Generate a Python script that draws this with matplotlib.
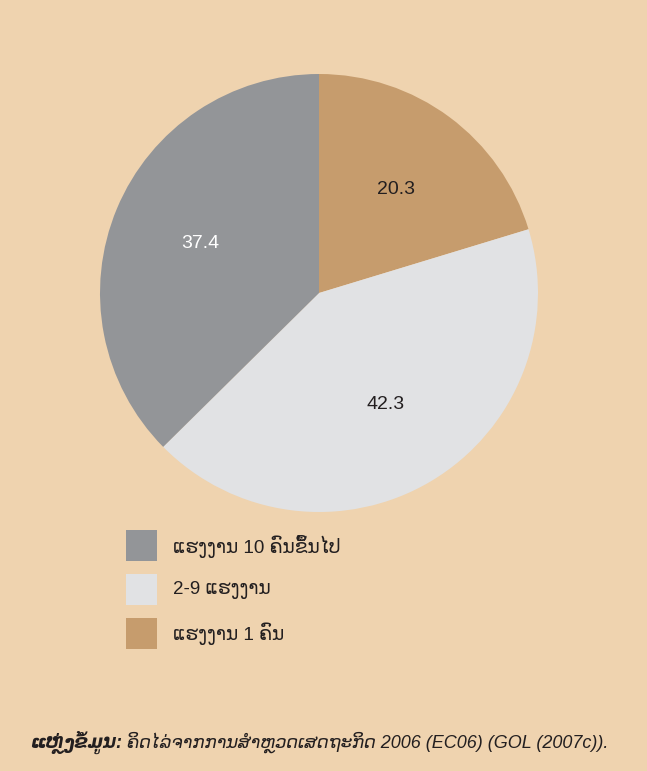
import matplotlib
matplotlib.use("Agg")
import matplotlib.pyplot as plt
from matplotlib.patches import Rectangle
import numpy as np

labels = ["ແຮງງານ 1 ຄົນ", "2-9 ແຮງງານ", "ແຮງງານ 10 ຄົນຂຶ້ນໄປ"]
values = [20.3, 42.3, 37.4]
colors = ["#C69C6D", "#E1E2E4", "#939598"]
label_colors = ["#231F20", "#231F20", "white"]
legend_order = [2, 1, 0]
source_head = "ແຫຼ່ງຂໍ້ມູນ:"
source_rest = " ຄິດໄລ່ຈາກການສຳຫຼວດເສດຖະກິດ 2006 (EC06) (GOL (2007c))."

bg = "#EFD3AF"
W, H = 647, 771
plt.rcParams['font.family'] = ['Liberation Sans', 'DejaVu Sans']
fig = plt.figure(figsize=(W / 100, H / 100), dpi=100, facecolor=bg)

cx, cy, r = 319, 293, 219
ax = fig.add_axes([(cx - r) / W, 1 - (cy + r) / H, 2 * r / W, 2 * r / H])
ax.set_facecolor(bg)
wedges, _ = ax.pie(values, colors=colors, startangle=90, counterclock=False,
                   wedgeprops=dict(linewidth=0))
ax.set_aspect('equal')
ax.set_xlim(-1, 1)
ax.set_ylim(-1, 1)
ax.axis('off')

ang0 = 90.0
for v, c in zip(values, label_colors):
    mid = np.deg2rad(ang0 - v * 3.6 / 2)
    ax.text(0.59 * np.cos(mid), 0.59 * np.sin(mid), f"{v:.1f}", ha='center', va='center',
            fontsize=14, color=c)
    ang0 -= v * 3.6

# legend drawn by hand
for k, i in enumerate(legend_order):
    top = 530 + 44 * k
    fig.add_artist(Rectangle((126 / W, 1 - (top + 31) / H), 31 / W, 31 / H,
                             transform=fig.transFigure, facecolor=colors[i], edgecolor='none'))
    fig.text(173 / W, 1 - (top + 16) / H, labels[i], fontsize=13.5, color="#231F20",
             ha='left', va='center')

t1 = fig.text(30 / W, 1 - 742 / H, source_head, fontsize=13, fontweight='bold',
              style='italic', color="#231F20", ha='left', va='center')
fig.canvas.draw()
bb = t1.get_window_extent()
fig.text(bb.x1 / W, 1 - 742 / H, source_rest, fontsize=13, style='italic',
         color="#231F20", ha='left', va='center')

fig.savefig("out.png", dpi=100, facecolor=bg)
